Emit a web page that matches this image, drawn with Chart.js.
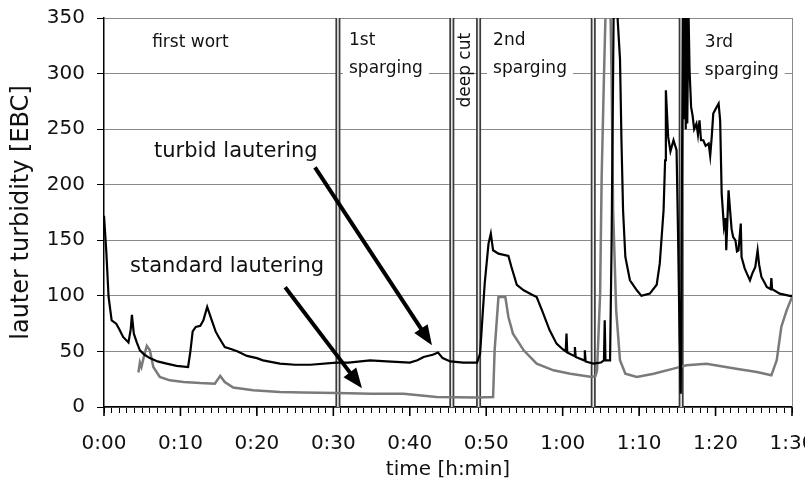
<!DOCTYPE html>
<html>
<head>
<meta charset="utf-8">
<script src="https://cdn.jsdelivr.net/npm/chart.js@4/dist/chart.umd.min.js"></script>
<style>
  html, body { margin: 0; padding: 0; background: #fff; }
</style>
</head>
<body>
<canvas id="chart" width="805" height="483"></canvas>
<script>
// time in minutes, turbidity in EBC (values above 350 run off the top of the plot)
const turbidTime = [0, 0.3, 0.6, 1.0, 1.6, 2.0, 2.5, 3.2, 3.5, 3.65, 3.9, 4.3, 4.7, 5.3, 6.0, 7.0, 8.2, 9.5, 11.0,
  11.3, 11.6, 12.0, 12.6, 13.0, 13.5, 14.1, 14.6, 15.0, 15.8, 16.7, 17.5, 18.7, 20.0, 20.8, 23.0, 25.0, 27.0,
  30.4, 32.0, 34.8, 37.0, 40.0, 41.0, 41.8, 43.0, 43.7, 44.3, 45.3, 47.0, 48.8,
  49.2, 49.5, 49.8, 50.3, 50.6, 50.9, 51.6, 52.9, 53.3, 54.0, 54.9, 56.0, 56.6, 57.3, 58.3, 59.2, 60.0,
  60.4, 60.5, 60.6, 61.5, 61.6, 61.7, 62.8, 62.9, 63.0, 64.0, 65.0, 65.4, 65.5, 65.6, 66.2, 66.4, 66.7,
  67.1, 67.2, 67.5, 67.7, 67.9, 68.2, 68.8, 69.7, 70.3, 71.4, 72.3, 72.7, 73.2, 73.4, 73.5, 73.8, 74.1,
  74.5, 74.9, 75.1, 75.3, 75.45, 75.6, 75.75, 75.9, 76.0, 76.1, 76.2, 76.3, 76.45, 76.6, 76.8, 77.0,
  77.2, 77.5, 77.7, 77.9, 78.1, 78.4, 78.7, 79.1, 79.3, 79.5, 79.7, 80.0, 80.4, 80.6, 80.8, 81.1, 81.3,
  81.4, 81.7, 81.9, 82.1, 82.3, 82.6, 82.8, 83.0, 83.3, 83.4, 83.8, 84.1, 84.5, 84.8, 85.2, 85.5, 85.7,
  86.0, 86.4, 86.7, 87.2, 87.3, 87.4, 88.4, 89.7, 90.0];
const turbidEBC = [172, 140, 99, 78, 75, 70, 63, 58, 70, 83, 66, 58, 51, 47, 44, 41, 39, 37, 36,
  50, 68, 72, 73, 78, 90, 78, 68, 63, 54, 52, 50, 46, 44, 42, 39, 38, 38,
  40, 40, 42, 41, 40, 42, 45, 47, 49, 44, 41, 40, 40,
  48, 80, 111, 147, 156, 141, 138, 136, 126, 110, 105, 101, 99, 87, 69, 57, 52,
  50, 66, 49, 46, 54, 45, 42, 51, 41, 39, 40, 42, 78, 42, 42, 147, 380,
  380, 348, 313, 237, 177, 135, 114, 105, 100, 102, 110, 129, 177, 222, 285, 243, 230,
  240, 231, 153, 60, 12, 200, 380, 260, 380, 250, 370, 255, 360, 303, 270, 262,
  250, 255, 245, 258, 240, 240, 235, 237, 226, 243, 264, 268, 273, 258, 192, 162, 170,
  141, 195, 177, 160, 153, 150, 140, 141, 165, 135, 125, 120, 114, 120, 126, 141, 128,
  117, 112, 108, 106, 116, 106, 102, 100, 100];

const standardTime = [4.5, 4.7, 4.9, 5.2, 5.6, 6.0, 6.45, 7.3, 8.6, 10.4, 12.6, 14.5, 15.2, 15.8, 16.9, 19.5,
  23.0, 26.0, 30.4, 35.0, 39.2, 43.5, 48.8, 50.9, 51.1, 51.6, 52.5, 52.9, 53.5, 54.9, 56.6, 58.8, 61.0,
  63.8, 64.3, 64.5, 64.9, 65.1, 65.4, 65.7, 66.2, 66.4, 66.6, 67.0, 67.5, 68.2, 69.7, 71.9, 74.5, 76.2,
  78.8, 82.7, 85.4, 87.3, 88.0, 88.6, 89.3, 90.0];
const standardEBC = [31, 40, 36, 45, 55, 51, 36, 27, 24, 22.5, 21.5, 21, 28, 22.5, 17.5, 15,
  13.5, 13, 12.6, 12, 12, 9, 8.5, 9, 51, 99, 99, 81, 66, 51, 39, 33, 30,
  27, 28, 33, 102, 207, 297, 380, 380, 297, 177, 87, 42, 30, 27, 30, 34.5, 37.5,
  39, 34.5, 31.5, 28.5, 42, 72, 87, 99];

// phase boundaries (minutes)
const phaseBounds = [30.6, 45.5, 49.0, 64.0, 75.5];
const phaseNames = [["first wort"], ["1st", "sparging"], ["2nd", "sparging"], ["3rd", "sparging"]];
const phaseAnchors = [[6.3, 328], [32.05, 330], [50.9, 330], [78.6, 328]];
const deepCutLabel = "deep cut";
const deepCutAnchor = [47.35, 303];

const seriesNames = ["turbid lautering", "standard lautering"];
const seriesNameAnchors = [[6.54, 230], [3.4, 126]];
// arrows: [fromTime, fromEBC, toTime, toEBC]
const arrows = [[27.6, 215.6, 42.9, 55.5], [23.7, 107.7, 33.75, 16.8]];

const zip = (xs, ys) => xs.map((x, i) => ({ x, y: ys[i] }));
const fmtTime = v => Math.floor(v / 60) + ":" + String(v % 60).padStart(2, "0");

Chart.defaults.font.family = "'DejaVu Sans', sans-serif";
Chart.defaults.color = "#111";

const datasets = [
  {
    label: "turbid lautering", data: zip(turbidTime, turbidEBC),
    borderColor: "#000", borderWidth: 2.2, pointRadius: 0, tension: 0, order: 0
  },
  {
    label: "standard lautering", data: zip(standardTime, standardEBC),
    borderColor: "#7a7a7a", borderWidth: 2.5, pointRadius: 0, tension: 0, order: 1
  }
];
for (const b of phaseBounds) {
  datasets.push({ data: [{ x: b, y: 0 }, { x: b, y: 350 }], borderColor: "#3a3a3a", borderWidth: 5, pointRadius: 0, order: 4 });
  datasets.push({ data: [{ x: b, y: 0 }, { x: b, y: 350 }], borderColor: "#e8e8e8", borderWidth: 1.6, pointRadius: 0, order: 3 });
}

const annotations = {
  id: "annotations",
  afterDatasetsDraw(chart) {
    const { ctx, scales: { x, y } } = chart;
    ctx.save();
    ctx.fillStyle = "#111";
    ctx.textBaseline = "middle";
    ctx.textAlign = "left";

    ctx.font = "17px 'DejaVu Sans'";
    phaseNames.forEach((lines, i) => {
      const px = x.getPixelForValue(phaseAnchors[i][0]);
      const py = y.getPixelForValue(phaseAnchors[i][1]);
      const w = Math.max(...lines.map(l => ctx.measureText(l).width));
      ctx.fillStyle = "#fff";
      ctx.fillRect(px - 6, py - 12, w + 12, lines.length * 28 + 2);
      ctx.fillStyle = "#111";
      lines.forEach((l, j) => ctx.fillText(l, px, py + j * 28));
    });

    ctx.save();
    ctx.translate(x.getPixelForValue(deepCutAnchor[0]), y.getPixelForValue(deepCutAnchor[1]));
    ctx.rotate(-Math.PI / 2);
    ctx.textAlign = "center";
    ctx.fillText(deepCutLabel, 0, 0);
    ctx.restore();

    ctx.font = "21px 'DejaVu Sans'";
    seriesNames.forEach((name, i) => {
      ctx.fillText(name, x.getPixelForValue(seriesNameAnchors[i][0]), y.getPixelForValue(seriesNameAnchors[i][1]));
    });

    ctx.strokeStyle = "#000";
    ctx.fillStyle = "#000";
    ctx.lineWidth = 4;
    for (const a of arrows) {
      const x0 = x.getPixelForValue(a[0]), y0 = y.getPixelForValue(a[1]);
      const x1 = x.getPixelForValue(a[2]), y1 = y.getPixelForValue(a[3]);
      const len = Math.hypot(x1 - x0, y1 - y0);
      const ux = (x1 - x0) / len, uy = (y1 - y0) / len;
      const head = 20, half = 8;
      ctx.beginPath();
      ctx.moveTo(x0, y0);
      ctx.lineTo(x1 - ux * head * 0.8, y1 - uy * head * 0.8);
      ctx.stroke();
      ctx.beginPath();
      ctx.moveTo(x1, y1);
      ctx.lineTo(x1 - ux * head - uy * half, y1 - uy * head + ux * half);
      ctx.lineTo(x1 - ux * head + uy * half, y1 - uy * head - ux * half);
      ctx.closePath();
      ctx.fill();
    }

    // longer marks at the labelled (10 min) ticks
    ctx.lineWidth = 1.6;
    const base = y.getPixelForValue(0);
    for (let v = 0; v <= 90; v += 10) {
      const px = x.getPixelForValue(v);
      ctx.beginPath();
      ctx.moveTo(px, base);
      ctx.lineTo(px, base + 9);
      ctx.stroke();
    }
    ctx.restore();
  }
};

new Chart(document.getElementById("chart"), {
  type: "line",
  data: { datasets },
  options: {
    responsive: false,
    animation: false,
    layout: { padding: { top: 18, right: 13, left: 0, bottom: 0 } },
    plugins: { legend: { display: false }, tooltip: { enabled: false } },
    scales: {
      x: {
        type: "linear", min: 0, max: 90,
        afterFit: s => { s.height = 76; s.paddingLeft = 0; s.paddingRight = 0; },
        ticks: {
          stepSize: 1, autoSkip: false, maxRotation: 0, padding: 19,
          font: { size: 20 }, color: "#111",
          callback: v => (v % 10 === 0 ? fmtTime(v) : "")
        },
        grid: { drawOnChartArea: false, tickLength: 6, color: "#000", tickColor: "#000" },
        border: { color: "#000", width: 1.5 },
        title: { display: true, text: "time [h:min]", font: { size: 20 }, color: "#111", padding: { top: 0, bottom: 1 } }
      },
      y: {
        min: 0, max: 350,
        afterFit: s => { s.width = 104; s.paddingTop = 0; s.paddingBottom = 0; },
        ticks: { stepSize: 50, padding: 12, font: { size: 20 }, color: "#111" },
        grid: { color: "#8a8a8a", lineWidth: 1, tickLength: 7, tickColor: "#000" },
        border: { color: "#000", width: 1.5 },
        title: { display: true, text: "lauter turbidity [EBC]", font: { size: 24 }, color: "#111", padding: { top: 7, bottom: 0 } }
      },
      y2: {
        position: "right", min: 0, max: 350,
        afterFit: s => { s.width = 0; },
        ticks: { display: false },
        grid: { drawOnChartArea: false, drawTicks: false },
        border: { color: "#8a8a8a", width: 1 }
      }
    }
  },
  plugins: [annotations]
});
</script>
</body>
</html>
